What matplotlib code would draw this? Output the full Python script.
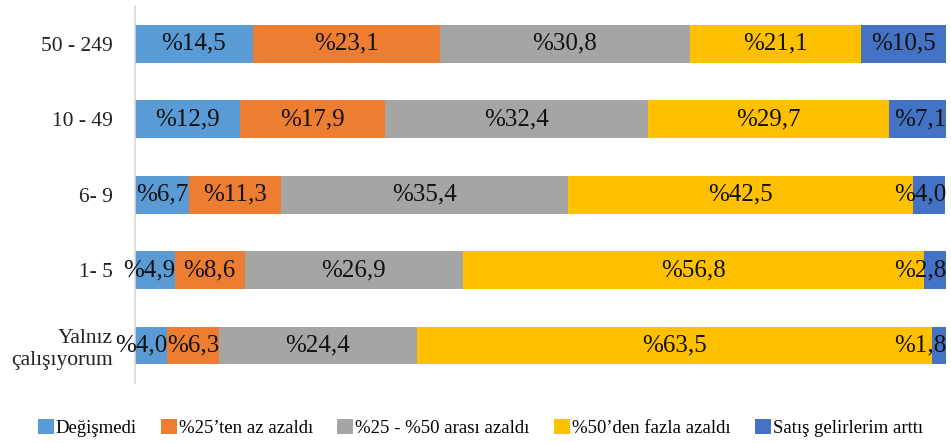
import numpy as np
import matplotlib
matplotlib.use('Agg')
import matplotlib.pyplot as plt
from matplotlib.patches import Patch

plt.rcParams['font.family'] = ['Liberation Serif', 'DejaVu Serif']

# employee size groups (top to bottom as drawn)
categories = ['50 - 249', '10 - 49', '6- 9', '1- 5', 'Yalnız\nçalışıyorum']

series_names = ['Değişmedi', '%25’ten az azaldı', '%25 - %50 arası azaldı',
                '%50’den fazla azaldı', 'Satış gelirlerim arttı']
colors = ['#5B9BD5', '#ED7D31', '#A5A5A5', '#FFC000', '#4472C4']

degismedi = [14.5, 12.9, 6.7, 4.9, 4.0]
az25 = [23.1, 17.9, 11.3, 8.6, 6.3]
arasi25_50 = [30.8, 32.4, 35.4, 26.9, 24.4]
fazla50 = [21.1, 29.7, 42.5, 56.8, 63.5]
artti = [10.5, 7.1, 4.0, 2.8, 1.8]

series = [degismedi, az25, arasi25_50, fazla50, artti]

fig = plt.figure(figsize=(9.51, 4.43), dpi=100)
ax = fig.add_axes([0.142, 0.135, 0.853, 0.851])

y = np.arange(len(categories))
left = np.zeros(len(categories))
for i, (vals, col) in enumerate(zip(series, colors)):
    vals = np.array(vals)
    ax.barh(y, vals, left=left, height=0.5, color=col, edgecolor='none')
    for yi, l, v in zip(y, left, vals):
        lab = '%' + ('%.1f' % v).replace('.', ',')
        if l + v / 2 > 96:
            # labels near the right edge are pushed inside the plot
            ax.text(100, yi, lab, ha='right', va='center', fontsize=18, color='#111111')
        elif i == 0 and v < 5:
            # tiny first segments: label ends at the segment's end
            ax.text(l + v, yi, lab, ha='right', va='center', fontsize=18, color='#111111')
        else:
            ax.text(l + v / 2, yi, lab, ha='center', va='center', fontsize=18, color='#111111')
    left = left + vals

ax.set_xlim(0, 100)
ax.set_ylim(len(categories) - 0.5, -0.5)
ax.set_yticks(y)
ax.set_yticklabels(categories, fontsize=15.5, color='#222222')
ax.tick_params(axis='y', length=0, pad=16)
ax.set_xticks([])
for s in ['top', 'right', 'bottom']:
    ax.spines[s].set_visible(False)
ax.spines['left'].set_color('#d9d9d9')
ax.spines['left'].set_linewidth(1.2)

handles = [Patch(facecolor=c, edgecolor='none') for c in colors]
fig.legend(handles, series_names, loc='lower center', bbox_to_anchor=(0.505, -0.025),
           ncol=5, frameon=False, fontsize=13.5, handlelength=0.85, handleheight=0.85,
           handletextpad=0.1, columnspacing=1.3)

fig.savefig('out.png', dpi=100)
